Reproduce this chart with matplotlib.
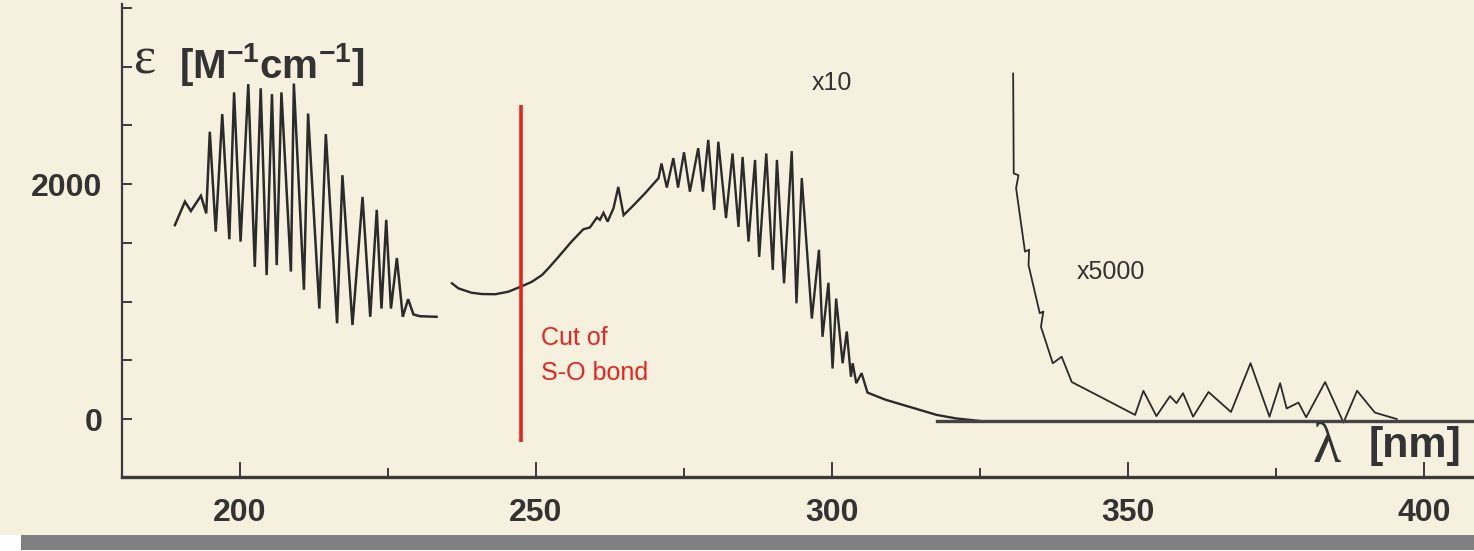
import matplotlib
matplotlib.use("Agg")
import matplotlib.pyplot as plt
from matplotlib.patches import Rectangle

# --- data (wavelength nm, epsilon M^-1 cm^-1) ---
seg1_nm = [189.0, 190.7, 191.7, 193.4, 194.3, 194.9, 195.9, 197.0, 198.2, 199.0,
           200.1, 201.4, 202.5, 203.5, 204.5, 205.4, 206.2, 207.0, 208.6, 209.1,
           210.8, 211.5, 213.4, 214.5, 216.4, 217.3, 219.0, 220.7, 222.0, 223.1,
           223.9, 224.7, 225.5, 226.5, 227.5, 228.4, 229.3, 230.4, 233.2]
seg1_eps = [1650, 1850, 1770, 1900, 1750, 2445, 1595, 2595, 1530, 2780,
            1510, 2850, 1295, 2815, 1225, 2765, 1310, 2780, 1255, 2855,
            1100, 2600, 940, 2425, 815, 2075, 800, 1890, 870, 1780,
            940, 1695, 940, 1370, 870, 1020, 890, 875, 870]

# "x10" part
seg2_nm = [235.8, 236.9, 239.1, 240.8, 243.1, 245.3, 247.6, 249.3, 251.0, 252.1,
           253.8, 256.0, 258.0, 259.1, 260.3, 260.8, 261.4, 262.1, 263.1, 263.9,
           264.8, 266.2, 268.4, 270.7, 271.2, 272.1, 273.2, 274.0, 275.0, 276.0,
           277.4, 278.2, 279.1, 280.1, 280.8, 282.1, 283.2, 284.2, 284.9, 285.9,
           287.0, 287.7, 288.9, 290.0, 290.7, 291.9, 293.2, 294.0, 294.9, 296.6,
           297.8, 298.4, 299.4, 300.1, 300.7, 301.8, 302.5, 303.2, 303.5, 304.1,
           305.0, 306.0, 309.0, 312.0, 317.7, 321.0, 325.6]
seg2_eps = [1155, 1112, 1075, 1064, 1062, 1083, 1130, 1168, 1225, 1283,
            1380, 1510, 1615, 1630, 1715, 1695, 1755, 1680, 1795, 1975,
            1735, 1805, 1920, 2050, 2175, 1970, 2220, 1970, 2270, 1935,
            2305, 1935, 2375, 1780, 2360, 1710, 2260, 1635, 2230, 1510,
            2205, 1380, 2260, 1270, 2205, 1155, 2280, 985, 2050, 855,
            1440, 700, 1160, 430, 1025, 475, 745, 360, 475, 305,
            390, 225, 165, 120, 35, 5, -20]

# "x5000" part
seg3_nm = [330.6, 330.7, 331.5, 331.1, 332.6, 333.3, 333.2, 335.1, 335.7, 335.3,
           337.3, 338.8, 340.5, 345.3, 351.2, 352.6, 354.8, 357.1, 358.2, 359.3,
           361.0, 363.6, 365.5, 367.4, 370.7, 373.9, 375.7, 376.8, 378.8, 380.1,
           383.3, 386.4, 388.7, 391.7, 395.4]
seg3_eps = [2940, 2090, 2075, 1965, 1425, 1440, 1310, 900, 915, 785,
            475, 530, 315, 190, 35, 240, 25, 195, 135, 220,
            20, 230, 145, 60, 475, 20, 305, 90, 140, 15,
            315, -30, 240, 55, 0]

baseline_nm = [317.7, 408.45]
baseline_eps = [-20, -20]

cut_nm = 247.5
cut_eps = (-195, 2670)

x_ticks_major = [200, 250, 300, 350, 400]
x_ticks_minor = [225, 275, 325, 375]
y_ticks = [0, 500, 1000, 1500, 2000, 2500, 3000, 3500]
y_labels = ["0", "", "", "", "2000", "", "", ""]

PAPER = "#f6f0df"
INK = "#2b2b2b"
RED = "#e3261f"
W, H = 1474, 551

fig = plt.figure(figsize=(W / 100, H / 100), dpi=100, facecolor=PAPER)
ax = fig.add_axes([0, 0, 1, 1])
ax.set_facecolor("none")
ax.set_xlim(159.46, 408.45)
ax.set_ylim(-1123, 3566)


def fx(px):
    return px / W


def fy(py):
    return 1 - py / H


# spectrum
ax.plot(seg1_nm, seg1_eps, color=INK, lw=1.8, solid_joinstyle="miter")
ax.plot(seg2_nm, seg2_eps, color=INK, lw=1.7, solid_joinstyle="miter")
ax.plot(seg3_nm, seg3_eps, color=INK, lw=1.3)
ax.plot(baseline_nm, baseline_eps, color="#444444", lw=2.4)
ax.vlines(cut_nm, *cut_eps, color=RED, lw=2.6)

# axes frame
for side in ("top", "right"):
    ax.spines[side].set_visible(False)
ax.spines["left"].set_position(("data", 180.07))
ax.spines["left"].set_bounds(-494, 3530)
ax.spines["left"].set_color("#3a3a3a")
ax.spines["left"].set_linewidth(1.6)
ax.spines["bottom"].set_position(("data", -494))
ax.spines["bottom"].set_bounds(180.07, 408.45)
ax.spines["bottom"].set_color("#3a3a3a")
ax.spines["bottom"].set_linewidth(2.4)

ax.set_xticks(x_ticks_major)
ax.set_xticks(x_ticks_minor, minor=True)
ax.set_yticks(y_ticks)
ax.set_yticklabels(y_labels)
ax.tick_params(axis="x", which="major", direction="in", length=11, width=1.4,
               color="#3a3a3a", pad=15)
ax.tick_params(axis="x", which="minor", direction="in", length=6.5, width=1.4,
               color="#3a3a3a")
ax.tick_params(axis="y", direction="in", length=7, width=1.4,
               color="#3a3a3a", pad=14)
for lab in ax.get_xticklabels() + ax.get_yticklabels():
    lab.set_fontfamily("Liberation Sans")
    lab.set_fontweight("bold")
    lab.set_fontsize(23)
    lab.set_color("#333333")

plt.rcParams["mathtext.fontset"] = "custom"
plt.rcParams["mathtext.bf"] = "Liberation Sans:bold"
plt.rcParams["mathtext.rm"] = "Liberation Sans:bold"

# axis titles
ax.text(fx(134), fy(73), "\u03b5", transform=ax.transAxes, fontsize=38,
        family="Liberation Serif", color="#333333", va="baseline")
ax.text(fx(179), fy(78), r"$\mathbf{[M^{-1}cm^{-1}]}$", transform=ax.transAxes,
        fontsize=29, color="#333333", va="baseline")
ax.text(fx(1313), fy(462), "\u03bb", transform=ax.transAxes, fontsize=42,
        family="Liberation Serif", color="#333333", va="baseline")
ax.text(fx(1461), fy(457), "[nm]", transform=ax.transAxes, fontsize=31,
        family="Liberation Sans", weight="bold", color="#333333",
        va="baseline", ha="right")

# annotations
ax.text(fx(812), fy(83), "x10", transform=ax.transAxes, fontsize=18,
        family="Liberation Sans", color="#333333", va="center")
ax.text(fx(1077), fy(272), "x5000", transform=ax.transAxes, fontsize=18,
        family="Liberation Sans", color="#333333", va="center")
ax.text(fx(541), fy(338), "Cut of", transform=ax.transAxes, fontsize=18,
        family="Liberation Sans", color=RED, va="center")
ax.text(fx(541), fy(373), "S-O bond", transform=ax.transAxes, fontsize=18,
        family="Liberation Sans", color=RED, va="center")

# bottom strip of the slide
fig.add_artist(Rectangle((0, 0), 1, 16 / H, transform=fig.transFigure,
                         facecolor="white", edgecolor="none", zorder=5))
fig.add_artist(Rectangle((21 / W, 1 / H), 1, 15 / H, transform=fig.transFigure,
                         facecolor="#808080", edgecolor="none", zorder=6))

fig.savefig("out.png", dpi=100, facecolor=fig.get_facecolor())
